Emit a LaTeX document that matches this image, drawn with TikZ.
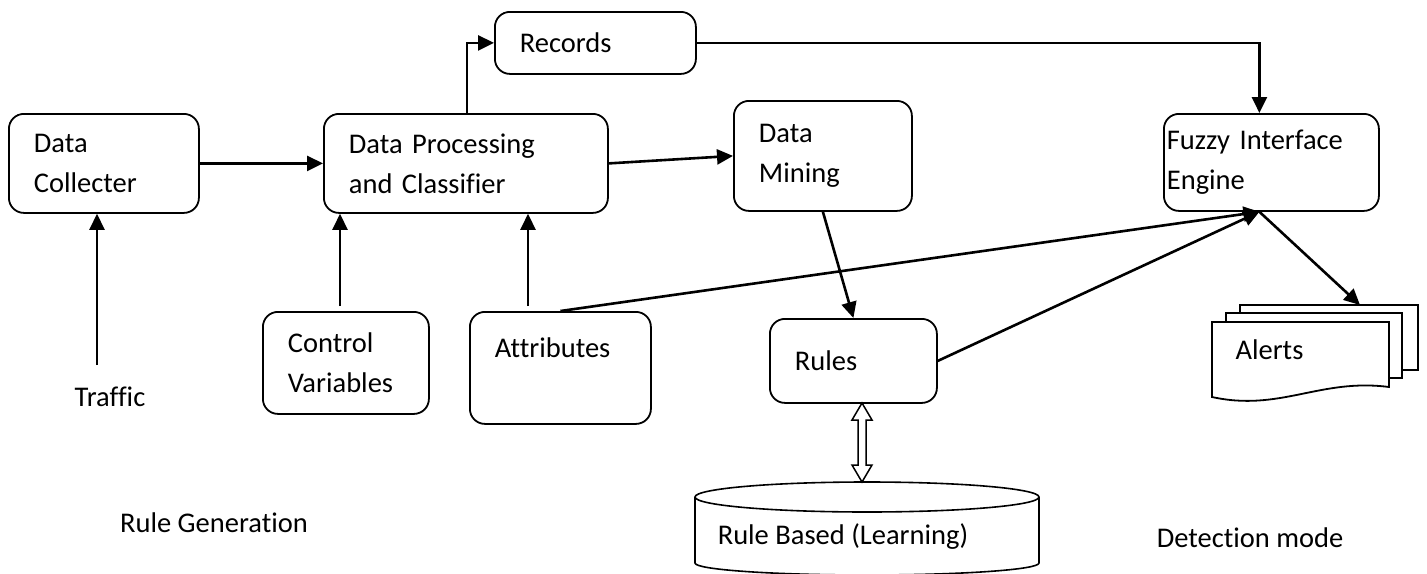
\documentclass[tikz,border=0pt]{standalone}
\usepackage{fontspec}
\setmainfont{Carlito}[Ligatures=NoCommon]
\usetikzlibrary{arrows.meta,calc}
\begin{document}
\begin{tikzpicture}[x=1pt,y=-1pt,
  txt/.style={font=\fontsize{28.5}{40}\selectfont},
  box/.style={draw, line width=1.8pt, rounded corners=15pt, anchor=north west,
    align=left, inner xsep=25pt, inner ysep=0pt, txt},
  arr/.style={line width=2.6pt, -{Triangle[length=16pt,width=15pt]}},
  sheet/.style={draw, line width=1.8pt, fill=white}]
\useasboundingbox (0,0) rectangle (1427,573);

% boxes
\node[box, text width=140pt, minimum height=99pt] (dc) at (8,113) {Data\\Collecter};
\node[box, text width=234pt, minimum height=99pt] (dp) at (323,113) {Data Processing\\and Classifier};
\node[box, text width=151pt, minimum height=62pt] (rec) at (494,11) {Records};
\node[box, text width=128pt, minimum height=110pt] (dm) at (733,100) {Data\\Mining};
\node[box, text width=209pt, inner xsep=3pt, minimum height=97pt] (fz) at (1163,113) {Fuzzy Interface\\Engine};
\node[box, text width=116pt, minimum height=102pt] (cv) at (262,311) {Control\\Variables};
\node[box, text width=131pt, minimum height=112pt] (at) at (469,311) {Attributes\\\mbox{}};
\node[box, text width=117pt, minimum height=84pt] (ru) at (769,318) {Rules};

% plain labels
\node[txt] (traffic) at (110,397) {Traffic};
\node[txt] (rulegen) at (214,523) {Rule Generation};
\node[txt] (detmode) at (1250,538) {Detection mode};

% cylinder
\draw[line width=1.6pt] (695,497) -- (695,563) arc[start angle=180,end angle=0,x radius=172,y radius=12] -- (1039,497);
\draw[line width=1.6pt] (867,497) ellipse [x radius=172, y radius=15];
\node[txt] (db) at (843,537) {Rule Based (Learning)};
\coordinate (dbtop) at (862,482);

% alerts document stack
\draw[sheet] (1240,305) rectangle (1418,370);
\draw[sheet] (1226,313) rectangle (1402,378);
\draw[sheet] (1212,322) -- (1389,322) -- (1389,387) .. controls (1320,378) and (1280,412) .. (1212,397) -- cycle;
\node[txt, anchor=west] (alerts) at (1232,350) {Alerts};
\coordinate (alertin) at (1360,305);

% helper coordinates
\coordinate (trafficstart) at (97,365);
\coordinate (cvtop) at (340,306);
\coordinate (attop) at (528,306);
\coordinate (fzin) at ([xshift=-12pt]fz.south);
\coordinate (rubot) at (862,403);

% connectors
\draw[arr] (trafficstart) -- (trafficstart |- dc.south);
\draw[arr] (dc.east) -- (dp.west);
\draw[arr] ([xshift=1pt]dp.north) |- (rec.west);
\draw[arr] (rec.east) -| ([xshift=-12pt]fz.north);
\draw[arr] (dp.east) -- (dm.west);
\draw[arr] (cvtop) -- (cvtop |- dp.south);
\draw[arr] (attop) -- (attop |- dp.south);
\draw[arr] (at.north) -- (fzin);
\draw[arr] (dm.south) -- (ru.north);
\draw[arr] (ru.east) -- (fzin);
\draw[arr] (fzin) -- (alertin);

% hollow double arrow between rules and database
\draw[line width=1.5pt, fill=white, line join=miter]
  (rubot) -- ($(rubot)+(10,17)$) -- ($(rubot)+(4,17)$) -- ($(dbtop)+(4,-17)$) -- ($(dbtop)+(10,-17)$)
  -- (dbtop) -- ($(dbtop)+(-10,-17)$) -- ($(dbtop)+(-4,-17)$) -- ($(rubot)+(-4,17)$) -- ($(rubot)+(-10,17)$) -- cycle;
\end{tikzpicture}
\end{document}
